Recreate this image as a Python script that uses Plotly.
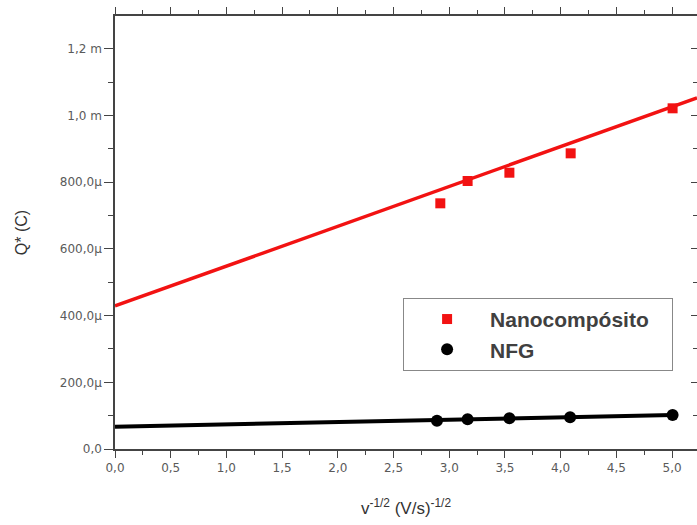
import plotly.graph_objects as go

# ---- data ----
nano_x = [2.92, 3.165, 3.54, 4.09, 5.005]
nano_y = [736.7e-6, 803.6e-6, 828.5e-6, 886.6e-6, 1021.6e-6]
nfg_x = [2.89, 3.165, 3.54, 4.085, 5.005]
nfg_y = [85e-6, 89e-6, 92e-6, 95e-6, 102e-6]

# linear fits as drawn (intercept, slope)
nano_fit = (429e-6, 119.4e-6)
nfg_fit = (67e-6, 7.0e-6)

x_tickvals = [0, 0.5, 1.0, 1.5, 2.0, 2.5, 3.0, 3.5, 4.0, 4.5, 5.0]
x_ticktext = ["0,0", "0,5", "1,0", "1,5", "2,0", "2,5", "3,0", "3,5", "4,0", "4,5", "5,0"]
y_tickvals = [0, 200e-6, 400e-6, 600e-6, 800e-6, 1.0e-3, 1.2e-3]
y_ticktext = ["0,0", "200,0\u00b5", "400,0\u00b5", "600,0\u00b5", "800,0\u00b5", "1,0 m", "1,2 m"]

x_range = [0, 5.224]
y_range = [0, 1.2984e-3]

# minor ticks halfway between the major ones (and one beyond the last)
x_minor = [(a + b) / 2 for a, b in zip(x_tickvals[:-1], x_tickvals[1:])] + [5.25]
y_minor = [(a + b) / 2 for a, b in zip(y_tickvals[:-1], y_tickvals[1:])] + [1.3e-3]

red = "#f21212"
axc = "#444444"
tick_font = dict(family="DejaVu Sans, Liberation Sans", size=12, color="#5a5a5a")

fig = go.Figure()

# fit lines
fx_red = [x_range[0], x_range[1]]
fig.add_trace(go.Scatter(x=fx_red, y=[nano_fit[0] + nano_fit[1] * v for v in fx_red],
                         mode="lines", line=dict(color=red, width=3.5),
                         showlegend=False, hoverinfo="skip"))
fx_blk = [0, max(nfg_x)]
fig.add_trace(go.Scatter(x=fx_blk, y=[nfg_fit[0] + nfg_fit[1] * v for v in fx_blk],
                         mode="lines", line=dict(color="black", width=4),
                         showlegend=False, hoverinfo="skip"))

# data points
fig.add_trace(go.Scatter(x=nano_x, y=nano_y, mode="markers",
                         name="Nanocompósito\u00a0\u00a0\u00a0",
                         marker=dict(symbol="square", size=10, color=red)))
fig.add_trace(go.Scatter(x=nfg_x, y=nfg_y, mode="markers", name="NFG",
                         marker=dict(symbol="circle", size=12, color="black")))

# invisible trace that carries the mirrored right axis
fig.add_trace(go.Scatter(x=nfg_x[:1], y=nfg_y[:1], xaxis="x2", yaxis="y2", mode="markers",
                         marker=dict(opacity=0, size=1),
                         showlegend=False, hoverinfo="skip"))

fig.update_layout(
    width=697, height=525,
    margin=dict(l=115, r=0, t=16, b=76),
    paper_bgcolor="white", plot_bgcolor="white",
    xaxis=dict(range=x_range, tickmode="array", tickvals=x_tickvals, ticktext=x_ticktext,
               ticks="outside", ticklen=7, tickwidth=1, tickcolor=axc, mirror="allticks",
               minor=dict(tickmode="array", tickvals=x_minor, ticks="outside",
                          ticklen=4, tickcolor=axc),
               showgrid=False, zeroline=False, tickfont=tick_font, automargin=False,
               showline=True, linecolor=axc, linewidth=1.5,
               title=dict(text="v<sup>-1/2</sup> (V/s)<sup>-1/2</sup>",
                          font=dict(family="Liberation Sans, Arial", size=17, color="#333333"),
                          standoff=28)),
    yaxis=dict(range=y_range, tickmode="array", tickvals=y_tickvals, ticktext=y_ticktext,
               ticks="outside", ticklen=9, tickwidth=1, tickcolor=axc,
               minor=dict(tickmode="array", tickvals=y_minor, ticks="outside",
                          ticklen=5, tickcolor=axc),
               showgrid=False, zeroline=False, tickfont=tick_font, automargin=False,
               showline=True, linecolor=axc, linewidth=1.5,
               title=dict(text="Q* (C)",
                          font=dict(family="Liberation Sans, Arial", size=16, color="#333333"),
                          standoff=28)),
    xaxis2=dict(range=x_range, overlaying="x", side="top", anchor="y2",
                showticklabels=False, ticks="", showgrid=False, zeroline=False,
                automargin=False, showline=False),
    yaxis2=dict(range=y_range, overlaying="y", side="right", anchor="x2",
                tickmode="array", tickvals=y_tickvals, showticklabels=False,
                ticks="inside", ticklen=6, tickwidth=1.2, tickcolor=axc,
                minor=dict(tickmode="array", tickvals=y_minor, ticks="inside",
                           ticklen=4, tickcolor=axc),
                showgrid=False, zeroline=False, showline=False, automargin=False),
    legend=dict(x=0.495, y=0.349, xanchor="left", yanchor="top",
                bgcolor="white", bordercolor="#888888", borderwidth=1,
                font=dict(family="Liberation Sans, Arial", size=21, color="#404040",
                          weight="bold"),
                itemwidth=76, tracegroupgap=0),
)

fig.write_html("out.html", config={"displayModeBar": False},
               post_script="document.body.style.margin='0';document.body.style.overflow='hidden';")
